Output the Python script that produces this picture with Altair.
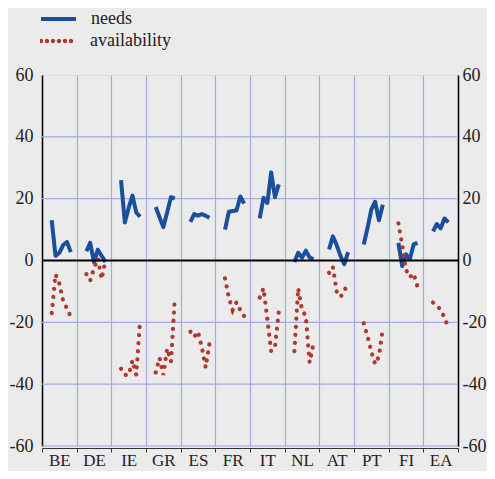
import json
import altair as alt
import pandas as pd

countries = ["BE", "DE", "IE", "GR", "ES", "FR", "IT", "NL", "AT", "PT", "FI", "EA"]

needs = [
    [13, 1.5, 2.5, 5, 6, 2.7],          # BE
    [3, 5.7, -0.5, 3.5, 1.5, -0.5],     # DE
    [26, 12.3, 17, 21, 15.5, 14.2],     # IE
    [17.3, 14, 10.8, 15.5, 20.5, 20],   # GR
    [12.5, 15, 14.5, 15, 14.5, 13.8],   # ES
    [10, 15.8, 16, 16.2, 20.7, 18.4],   # FR
    [13.6, 20.3, 18.6, 28.5, 20.5, 24.6],  # IT
    [-0.5, 2.5, 0.9, 3.2, 1.0, 0.4],    # NL
    [3.6, 7.8, 5, 1.5, -1.2, 2.7],      # AT
    [5.2, 10.5, 16.5, 19, 13, 18],      # PT
    [5.7, -1.8, 2, 0.4, 5.2, 5.7],      # FI
    [9.4, 11.8, 10.4, 13.6, 12.3],      # EA
]
availability = [
    [-17, -4.5, -7.5, -13, -15.5, -18.2],     # BE
    [-4.4, -6.5, -2.5, 0.7, -6, 0],           # DE
    [-35, -37, -37, -32.3, -37, -19.2],       # IE
    [-36.2, -31.5, -37, -28.5, -32.7, -12.3], # GR
    [-23, -24.7, -23, -28, -34.6, -27],       # ES
    [-5.8, -12, -16, -13.5, -16, -18],        # FR
    [-12, -9, -19, -29.3, -28, -16.6],        # IT
    [-29.3, -9, -16, -18, -33, -27],          # NL
    [-4, -2, -10, -11.8, -10, -6.8],          # AT
    [-20.3, -24.5, -29.5, -33.5, -31, -22],   # PT
    [12, 5, -3, -5.4, -4.2, -8.4],            # FI
    [-13.6, -14.5, -16, -18.5, -21.7],        # EA
]
y_ticks = [-60, -40, -20, 0, 20, 40, 60]
grid_y = [-60, -40, -20, 20, 40]
zero_line = [0]

START = 0.28
STEP = 0.11


def long_table(name, table):
    rows = []
    for i, c in enumerate(countries):
        for j, v in enumerate(table[i]):
            rows.append({"country": c, "series": name,
                         "x": i + START + j * STEP, "value": v})
    return pd.DataFrame(rows)


df_needs = long_table("needs", needs)
df_avail = long_table("availability", availability)

FONT = "Liberation Serif"
GRID = "#a3abdc"
BLUE = "#1a4f9e"
RED = "#b0382c"
BG = "#ebebeb"
TXT = "#222222"

W, H = 416, 371
PAD_L, PAD_T = 34, 67
PAD_R = 479 - PAD_L - W
PAD_B = 463 - PAD_T - H

xscale = alt.Scale(domain=[0, len(countries)], nice=False, zero=False)
yscale = alt.Scale(domain=[-60, 60], nice=False, zero=False)

label_expr = json.dumps(countries) + "[datum.value] || ''"

xaxis = alt.Axis(values=list(range(len(countries) + 1)), labelExpr=label_expr,
                 labelOffset=W / len(countries) / 2, labelFlush=False,
                 labelOverlap=False, tickSize=4, tickColor="#333333",
                 domainColor="#333333", offset=2, grid=True, gridColor=GRID,
                 gridWidth=1.2, title=None, labelFontSize=17, labelFont=FONT,
                 labelColor=TXT, labelPadding=0)

left_axis = alt.Axis(values=y_ticks, orient="left", ticks=False, labelPadding=9,
                     labelExpr="'' + datum.value",
                     domainColor="black", domainWidth=1.5, grid=False, title=None,
                     labelFontSize=18, labelFont=FONT, labelColor=TXT)
right_axis = alt.Axis(values=y_ticks, orient="right", ticks=False, labelPadding=4,
                      labelExpr="'' + datum.value",
                      domainColor="black", domainWidth=1.5, grid=False, title=None,
                      labelFontSize=18, labelFont=FONT, labelColor=TXT)

hgrid = alt.Chart(pd.DataFrame({"y": grid_y})).mark_rule(
    color=GRID, strokeWidth=1.2).encode(
    y=alt.Y("y:Q", scale=yscale, axis=left_axis))

zero = alt.Chart(pd.DataFrame({"y": zero_line})).mark_rule(
    color="black", strokeWidth=2.2).encode(
    y=alt.Y("y:Q", scale=yscale, axis=right_axis))

# legend symbol for the dotted series: a row of six small filled circles
dot_r = 0.1
dots_path = "".join(
    f"M{cx - dot_r:.3f},0a{dot_r},{dot_r} 0 1,0 {2 * dot_r:.3f},0a{dot_r},{dot_r} 0 1,0 {-2 * dot_r:.3f},0Z"
    for cx in [-1 + k * 0.4 for k in range(6)]
)

legend_needs = alt.Legend(title=None, orient="none", legendX=-3, legendY=-66,
                          symbolType="stroke", symbolSize=1225, symbolStrokeWidth=4,
                          labelFontSize=18, labelFont=FONT, labelColor=TXT,
                          labelOffset=13, padding=0, clipHeight=20)
legend_avail = alt.Legend(title=None, orient="none", legendX=-2, legendY=-44,
                          symbolType=dots_path, symbolSize=900, symbolStrokeWidth=1.4,
                          symbolFillColor=RED, symbolStrokeColor=RED,
                          labelFontSize=18, labelFont=FONT, labelColor=TXT,
                          labelOffset=18, padding=0, clipHeight=20)

needs_layer = alt.Chart(df_needs).mark_line(strokeWidth=4, strokeJoin="round").encode(
    x=alt.X("x:Q", scale=xscale, axis=xaxis),
    y=alt.Y("value:Q", scale=yscale, axis=None),
    detail="country:N",
    color=alt.Color("series:N", scale=alt.Scale(domain=["needs"], range=[BLUE]),
                    legend=legend_needs),
)

avail_layer = alt.Chart(df_avail).mark_line(strokeWidth=4.2, strokeCap="round").encode(
    x=alt.X("x:Q", scale=xscale, axis=xaxis),
    y=alt.Y("value:Q", scale=yscale, axis=None),
    detail="country:N",
    color=alt.Color("series:N", scale=alt.Scale(domain=["availability"], range=[RED]),
                    legend=legend_avail),
    strokeDash=alt.StrokeDash("series:N",
                              scale=alt.Scale(domain=["availability"], range=[[0.1, 8]]),
                              legend=None),
)

chart = alt.layer(hgrid, needs_layer, avail_layer, zero).resolve_axis(
    y="independent").resolve_scale(color="independent").resolve_legend(
    color="independent").properties(
    width=W, height=H,
    autosize=alt.AutoSizeParams(type="none"),
    padding={"left": PAD_L, "top": PAD_T, "right": PAD_R, "bottom": PAD_B},
    background=BG,
).configure_view(stroke=None, fill=BG).configure(font=FONT)

chart.save("out.html", embed_options={"renderer": "svg", "actions": False})
